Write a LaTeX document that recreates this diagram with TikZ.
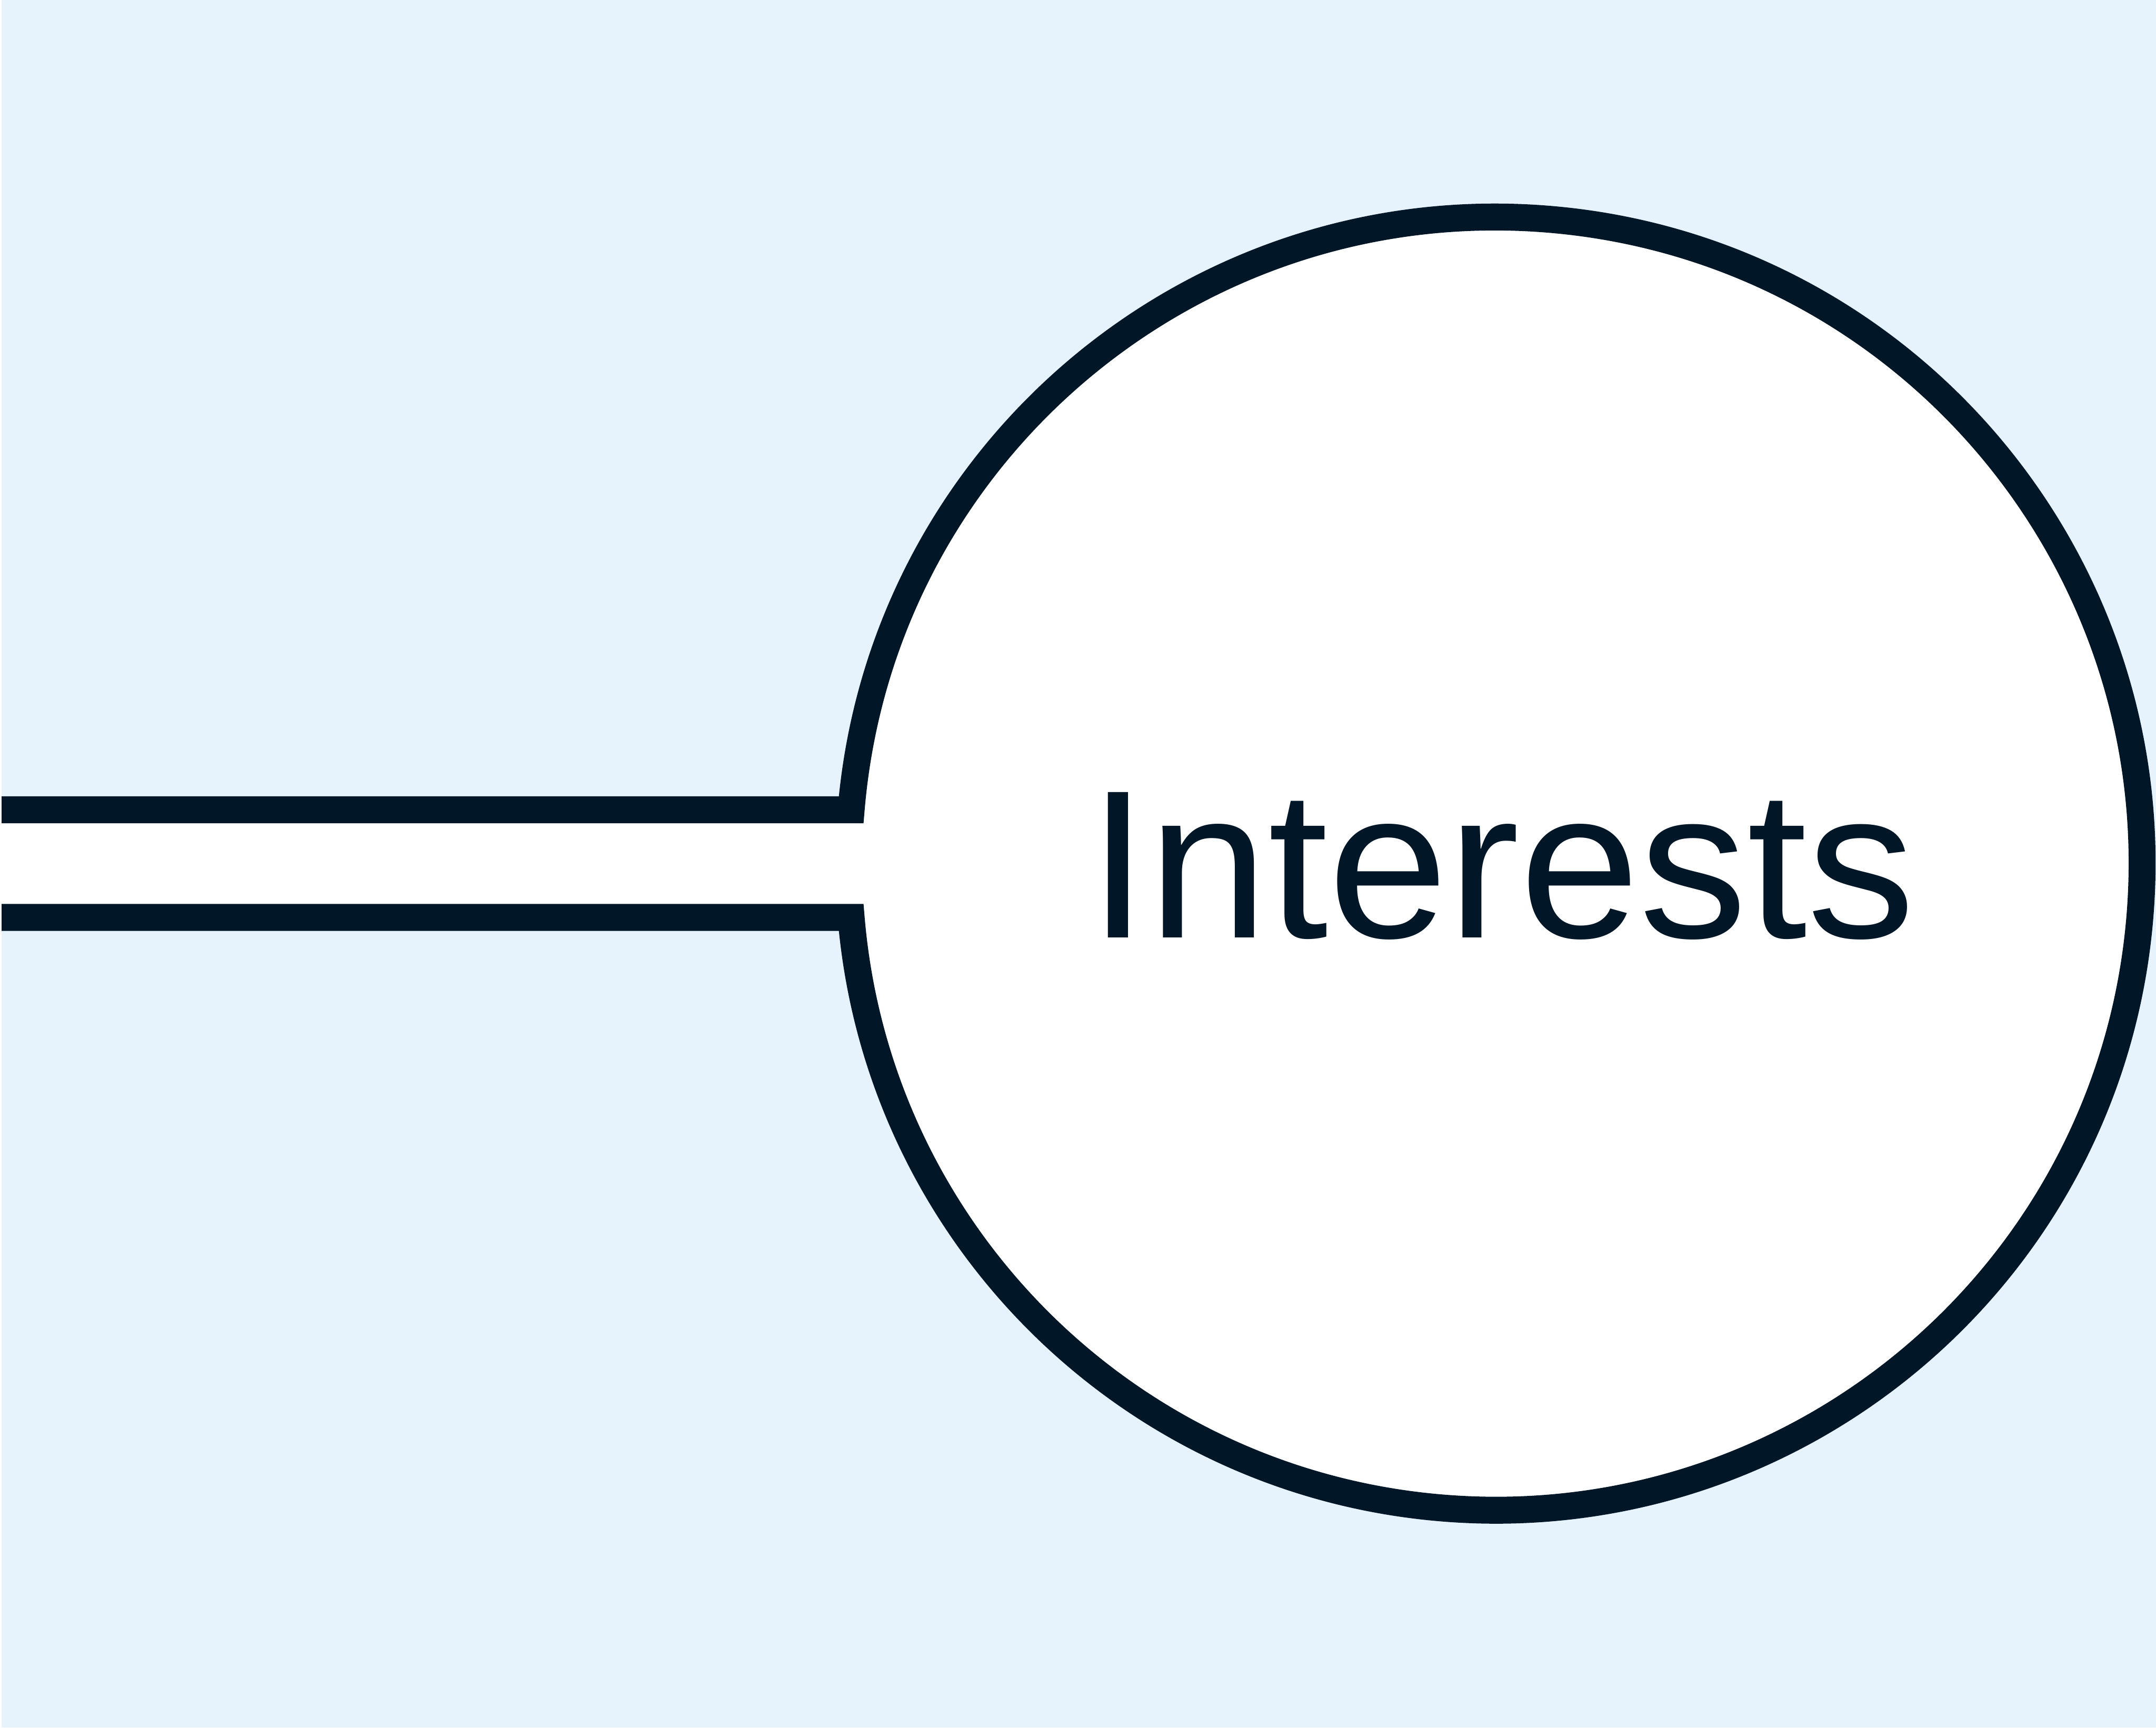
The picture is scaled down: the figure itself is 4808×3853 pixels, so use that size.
\documentclass[tikz,border=0pt]{standalone}
\usepackage{fontspec}
\setmainfont{Liberation Sans}
\usetikzlibrary{calc}
\definecolor{bgblue}{RGB}{230,243,253}
\definecolor{ink}{RGB}{1,22,39}
\tikzset{
  outline/.style={draw=ink, line width=0.6cm, fill=white, line join=miter, line cap=butt},
  label/.style={text=ink, inner sep=0pt, font=\fontsize{134}{134}\selectfont}
}
\begin{document}
\begin{tikzpicture}[x=0.01cm,y=0.01cm]
  \useasboundingbox (0,0) rectangle (4808,3853);
  \fill[bgblue] (0,0) rectangle (4808,3853);
  \coordinate (c) at (3335,1927);
  \coordinate (tl) at (-20,2047);
  \coordinate (bl) at (-20,1807);
  \draw[outline] (tl) -- ($(c)+(175.226:1442)$) arc[start angle=175.226, end angle=-175.226, radius=1442] -- (bl);
  \fill[white] (0,0) rectangle (3,3853);
  \node[label, anchor=base, xscale=1.02] (t) at (3349,1762) {Interests};
\end{tikzpicture}
\end{document}
